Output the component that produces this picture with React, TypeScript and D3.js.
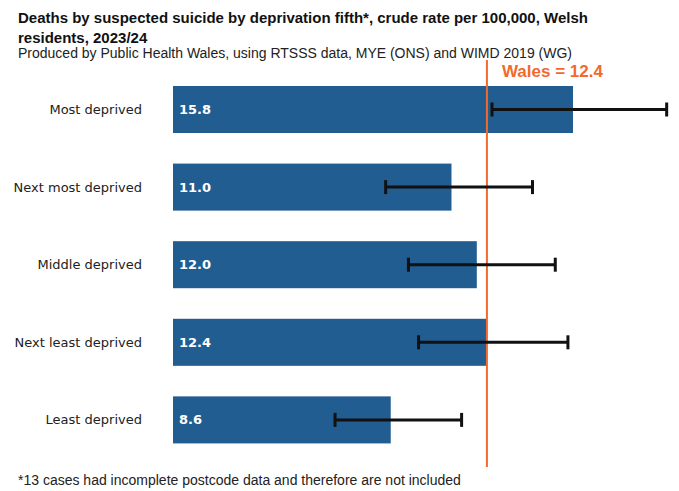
import React from "react";
import * as d3 from "d3";

const categories = ["Most deprived", "Next most deprived", "Middle deprived", "Next least deprived", "Least deprived"];
const rates = [15.8, 11.0, 12.0, 12.4, 8.6];
const lowerCI = [12.6, 8.4, 9.3, 9.7, 6.4];
const upperCI = [19.5, 14.2, 15.1, 15.6, 11.4];
const walesRate = 12.4;

const W = 679;
const H = 491;
const BAR = "#215d90";
const ORANGE = "#f26a2b";

export default function App() {
  const x = d3.scaleLinear().domain([0, 15.8]).range([173, 573]);
  const pad = 0.394;
  const y = d3
    .scaleBand<string>()
    .domain(categories)
    .range([70.7, 458.7])
    .paddingInner(pad)
    .paddingOuter(pad / 2);
  const band = y.bandwidth();

  return (
    <svg
      width={W}
      height={H}
      style={{ position: "absolute", left: 0, top: 0, background: "#fff" }}
      fontFamily="Liberation Sans, Arial, sans-serif"
    >
      <text x={18} y={23} fontSize={15} fontWeight="bold" fill="#111">
        Deaths by suspected suicide by deprivation fifth*, crude rate per 100,000, Welsh
      </text>
      <text x={18} y={43} fontSize={15} fontWeight="bold" fill="#111">
        residents, 2023/24
      </text>
      <text x={18} y={58} fontSize={14} fill="#222">
        Produced by Public Health Wales, using RTSSS data, MYE (ONS) and WIMD 2019 (WG)
      </text>

      {categories.map((c, i) => {
        const yc = (y(c) as number) + band / 2;
        return (
          <g key={c}>
            <text
              x={142}
              y={yc}
              dy="0.35em"
              textAnchor="end"
              fontSize={13}
              fontFamily="DejaVu Sans, Verdana, sans-serif"
              fill="#222"
            >
              {c}
            </text>
            <rect x={x(0)} y={y(c)} width={x(rates[i]) - x(0)} height={band} fill={BAR} />
            <text
              x={x(0) + 6}
              y={yc}
              dy="0.35em"
              fontSize={13}
              fontWeight="bold"
              fontFamily="DejaVu Sans, Verdana, sans-serif"
              fill="#fff"
            >
              {rates[i].toFixed(1)}
            </text>
          </g>
        );
      })}

      <line x1={x(walesRate)} x2={x(walesRate)} y1={60} y2={467} stroke={ORANGE} strokeWidth={2} />
      <text x={x(walesRate) + 15} y={77} fontSize={17} fontWeight="bold" fill={ORANGE}>
        Wales = {walesRate}
      </text>

      {categories.map((c, i) => {
        const yc = (y(c) as number) + band / 2;
        return (
          <g key={"e" + c} stroke="#111" strokeWidth={3}>
            <line x1={x(lowerCI[i])} x2={x(upperCI[i])} y1={yc} y2={yc} />
            <line x1={x(lowerCI[i])} x2={x(lowerCI[i])} y1={yc - 7} y2={yc + 7} />
            <line x1={x(upperCI[i])} x2={x(upperCI[i])} y1={yc - 7} y2={yc + 7} />
          </g>
        );
      })}

      <text x={18} y={485} fontSize={14} fill="#222">
        *13 cases had incomplete postcode data and therefore are not included
      </text>
    </svg>
  );
}
